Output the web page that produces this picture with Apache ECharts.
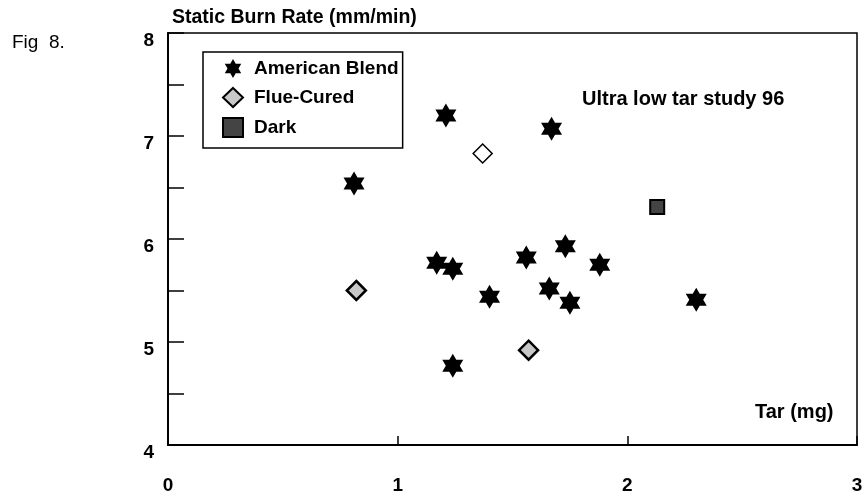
<!DOCTYPE html>
<html>
<head>
<meta charset="utf-8">
<script src="https://cdn.jsdelivr.net/npm/echarts@6/dist/echarts.min.js"></script>
<style>
  html, body { margin: 0; padding: 0; background: #fff; }
  #main { width: 866px; height: 497px; }
</style>
</head>
<body>
<div id="main"></div>
<script>
// values
var americanTar  = [0.81, 1.21, 1.67, 1.17, 1.24, 1.40, 1.56, 1.73, 1.66, 1.75, 1.24, 1.88, 2.30];
var americanRate = [6.54, 7.20, 7.07, 5.77, 5.71, 5.44, 5.82, 5.93, 5.52, 5.38, 4.77, 5.75, 5.41];

var flueTar  = [0.82, 1.57];
var flueRate = [5.50, 4.92];
var flueOpenTar  = [1.37];
var flueOpenRate = [6.83];

var darkTar  = [2.13];
var darkRate = [6.31];

var xTicks = [0, 1, 2, 3];
var yTicks = [4, 5, 6, 7, 8];

function pairs(xs, ys) {
  return xs.map(function (x, i) { return [x, ys[i]]; });
}

var star = 'path://M10,0 L12.885,5 L18.66,5 L15.77,10 L18.66,15 L12.885,15 L10,20 L7.115,15 L1.34,15 L4.23,10 L1.34,5 L7.115,5 Z';
var font = 'Liberation Sans';

var chart = echarts.init(document.getElementById('main'));

chart.setOption({
  backgroundColor: '#fff',
  animation: false,
  textStyle: { fontFamily: font, color: '#000' },
  grid: {
    left: 168, right: 9, top: 33, bottom: 52,
    show: true, borderColor: '#000', borderWidth: 1.5
  },
  legend: {
    orient: 'vertical',
    left: 203, top: 52,
    data: ['American Blend', 'Flue-Cured', 'Dark'],
    selectedMode: false,
    backgroundColor: '#fff',
    borderColor: '#000', borderWidth: 1.5, borderRadius: 0,
    padding: [7, 4, 10, 19],
    itemWidth: 20, itemHeight: 19, itemGap: 9,
    textStyle: { fontFamily: font, fontSize: 19, fontWeight: 'bold', color: '#000', padding: [0, 0, 0, 6] }
  },
  xAxis: {
    type: 'value',
    min: 0, max: 3, interval: 1,
    axisLine: { show: true, lineStyle: { color: '#000', width: 2 } },
    axisTick: { show: true, inside: true, length: 9, lineStyle: { color: '#000', width: 1.5 } },
    axisLabel: {
      margin: 31, fontFamily: font, fontSize: 19, fontWeight: 'bold', color: '#000',
      showMinLabel: true, showMaxLabel: true,
      formatter: function (v) { return xTicks.indexOf(v) >= 0 ? String(v) : ''; }
    },
    splitLine: { show: false }
  },
  yAxis: {
    type: 'value',
    min: 4, max: 8, interval: 0.5,
    name: 'Static Burn Rate (mm/min)',
    nameLocation: 'end',
    nameGap: 5,
    nameTextStyle: { fontFamily: font, fontSize: 19.5, fontWeight: 'bold', color: '#000', align: 'left', padding: [0, 0, 0, 4] },
    axisLine: { show: true, lineStyle: { color: '#000', width: 2 } },
    axisTick: { show: true, inside: true, length: 16, lineStyle: { color: '#000', width: 1.5 } },
    axisLabel: {
      margin: 14, fontFamily: font, fontSize: 19, fontWeight: 'bold', color: '#000',
      verticalAlign: 'top', lineHeight: 15,
      formatter: function (v) { return yTicks.indexOf(v) >= 0 ? String(v) : ''; }
    },
    splitLine: { show: false }
  },
  graphic: [
    { type: 'text', left: 12, top: 33, style: { text: 'Fig  8.', font: '19px "Liberation Sans"', fill: '#000' } },
    { type: 'text', left: 582, top: 89, style: { text: 'Ultra low tar study 96', font: 'bold 20px "Liberation Sans"', fill: '#000' } },
    { type: 'text', left: 755, top: 402, style: { text: 'Tar (mg)', font: 'bold 20px "Liberation Sans"', fill: '#000' } }
  ],
  series: [
    {
      name: 'American Blend',
      type: 'scatter',
      symbol: star,
      symbolSize: [21, 24],
      itemStyle: { color: '#000', opacity: 1 },
      data: pairs(americanTar, americanRate)
    },
    {
      name: 'Flue-Cured',
      type: 'scatter',
      symbol: 'diamond',
      symbolSize: 19,
      itemStyle: { color: '#c8c8c8', borderColor: '#000', borderWidth: 2.5, opacity: 1 },
      data: pairs(flueTar, flueRate)
    },
    {
      name: 'Flue-Cured',
      type: 'scatter',
      symbol: 'diamond',
      symbolSize: 19,
      itemStyle: { color: '#fff', borderColor: '#000', borderWidth: 1.5, opacity: 1 },
      data: pairs(flueOpenTar, flueOpenRate)
    },
    {
      name: 'Dark',
      type: 'scatter',
      symbol: 'rect',
      symbolSize: 14,
      itemStyle: { color: '#444', borderColor: '#000', borderWidth: 2, opacity: 1 },
      data: pairs(darkTar, darkRate)
    }
  ]
});
</script>
</body>
</html>
